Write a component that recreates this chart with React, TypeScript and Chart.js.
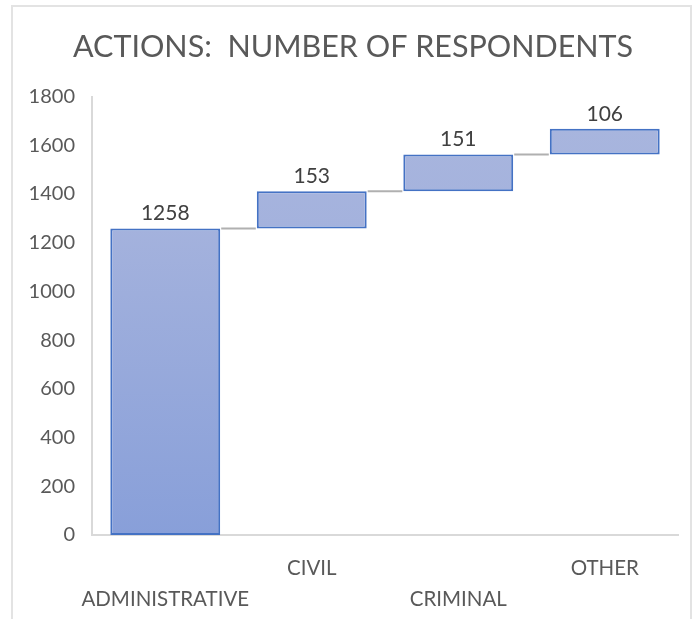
import React, { useEffect, useRef } from "react";
import { Chart, registerables } from "chart.js";

Chart.register(...registerables);

const categories = ["ADMINISTRATIVE", "CIVIL", "CRIMINAL", "OTHER"];
const increments = [1258, 153, 151, 106];
const yTicks = [0, 200, 400, 600, 800, 1000, 1200, 1400, 1600, 1800];
const chartTitle = "ACTIONS:  NUMBER OF RESPONDENTS";

const FONT = "Lato, 'Open Sans', sans-serif";

export default function App() {
  const ref = useRef<HTMLCanvasElement | null>(null);

  useEffect(() => {
    if (!ref.current) return;
    let run = 0;
    const floating = increments.map((v) => {
      const start = run;
      run += v;
      return [start, run] as [number, number];
    });

    const overlay = {
      id: "waterfallExtras",
      afterDatasetsDraw(chart: any) {
        const ctx = chart.ctx;
        const meta = chart.getDatasetMeta(0);
        const y = chart.scales.y;
        ctx.save();
        ctx.strokeStyle = "#b0b0b0";
        ctx.lineWidth = 2;
        for (let i = 0; i < meta.data.length - 1; i++) {
          const a = meta.data[i];
          const b = meta.data[i + 1];
          const yy = y.getPixelForValue(floating[i][1]);
          ctx.beginPath();
          ctx.moveTo(a.x + a.width / 2 + 1, yy);
          ctx.lineTo(b.x - b.width / 2 - 1, yy);
          ctx.stroke();
        }
        ctx.fillStyle = "#404040";
        ctx.font = `21px ${FONT}`;
        ctx.textAlign = "center";
        ctx.textBaseline = "middle";
        meta.data.forEach((bar: any, i: number) => {
          const top = y.getPixelForValue(floating[i][1]);
          ctx.fillText(String(increments[i]), bar.x, top - 15);
        });
        ctx.restore();
      },
    };

    const chart = new Chart(ref.current, {
      type: "bar",
      data: {
        labels: categories,
        datasets: [
          {
            data: floating as any,
            backgroundColor: (c: any) => {
              const area = c.chart.chartArea;
              if (!area) return "#a3b1dc";
              const g = c.chart.ctx.createLinearGradient(0, area.top, 0, area.bottom);
              g.addColorStop(0, "#a9b6de");
              g.addColorStop(0.3, "#a4b2dd");
              g.addColorStop(1, "#889fd9");
              return g;
            },
            borderColor: "#4472c4",
            borderWidth: 2,
            borderSkipped: false,
            categoryPercentage: 0.75,
            barPercentage: 1,
          },
        ],
      },
      options: {
        animation: false,
        responsive: false,
        maintainAspectRatio: false,
        layout: { padding: { left: 28, right: 18, top: 0, bottom: 0 } },
        plugins: {
          legend: { display: false },
          tooltip: { enabled: false },
          title: {
            display: true,
            text: chartTitle,
            color: "#595959",
            font: { family: FONT, size: 30.5, weight: "normal" as any },
            padding: { top: 29, bottom: 31 },
          },
        },
        scales: {
          x: {
            grid: { display: false, drawTicks: false },
            border: { color: "#d9d9d9", width: 2 },
            ticks: {
              color: "#595959",
              font: { family: FONT, size: 20.5, lineHeight: 1.5 },
              padding: 18,
              maxRotation: 0,
              autoSkip: false,
              callback: (_v: any, i: number) =>
                i % 2 === 0 ? ["", categories[i]] : [categories[i], ""],
            },
            afterFit: (s: any) => {
              s.height = 84;
            },
          },
          y: {
            min: 0,
            max: 1800,
            afterBuildTicks: (s: any) => {
              s.ticks = yTicks.map((v) => ({ value: v }));
            },
            grid: { display: false, drawTicks: false },
            border: { color: "#d9d9d9", width: 2 },
            ticks: {
              color: "#595959",
              font: { family: FONT, size: 20 },
              padding: 17,
              callback: (v: any) => String(v),
            },
            afterFit: (s: any) => {
              s.width = 64;
            },
          },
        },
      },
      plugins: [overlay],
    });
    return () => chart.destroy();
  }, []);

  return (
    <div
      style={{
        position: "fixed",
        left: 0,
        top: 0,
        width: 696,
        height: 619,
        background: "#ffffff",
        overflow: "hidden",
      }}
    >
      <div
        style={{
          position: "absolute",
          left: 11,
          top: 5,
          width: 681,
          height: 640,
          border: "2px solid #e3e3e3",
          boxSizing: "border-box",
        }}
      />
      <canvas
        ref={ref}
        width={696}
        height={619}
        style={{ position: "absolute", left: 0, top: 0, width: 696, height: 619 }}
      />
    </div>
  );
}
